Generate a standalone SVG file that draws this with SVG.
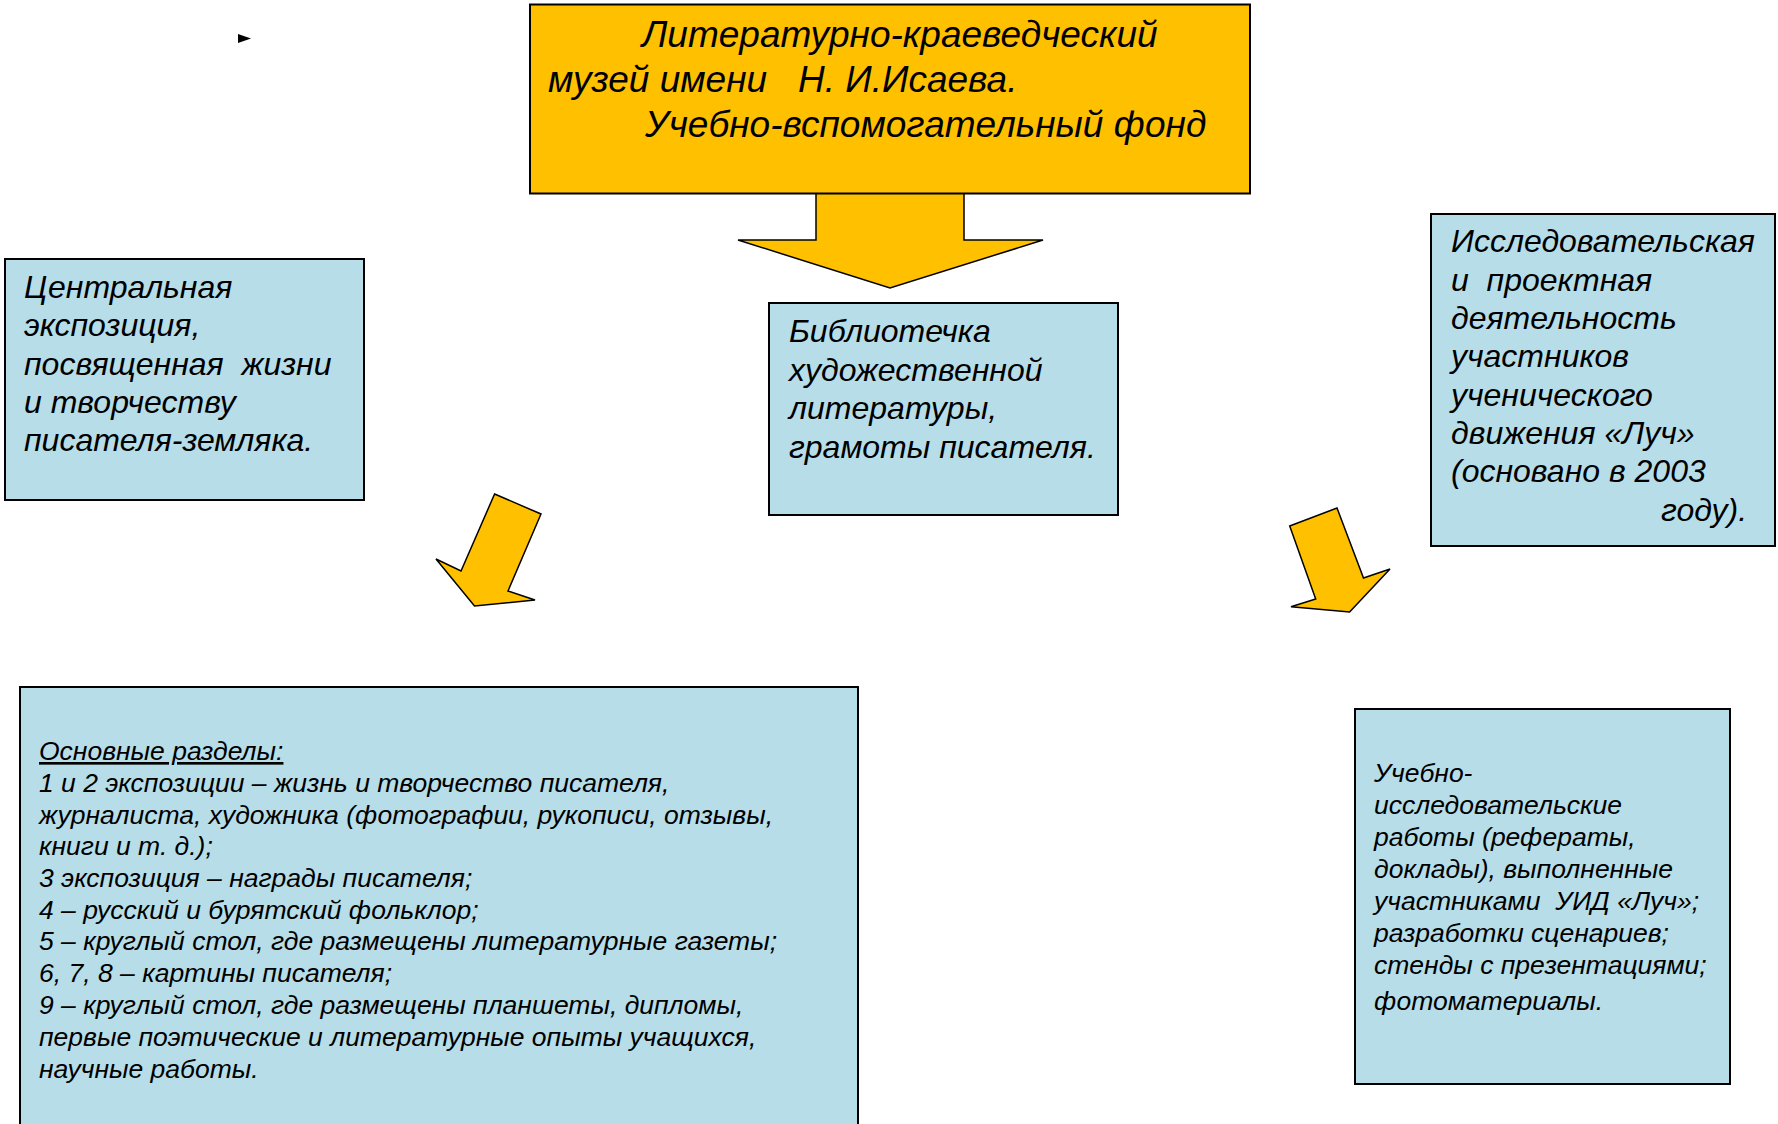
<svg xmlns="http://www.w3.org/2000/svg" width="1778" height="1124" viewBox="0 0 1778 1124">
<style>
  .box { fill: #B7DDE8; stroke: #000; stroke-width: 2; }
  .title { fill: #FFC000; stroke: #000; stroke-width: 2; }
  .arrow { fill: #FFC000; stroke: #000; stroke-width: 1.5; stroke-linejoin: miter; }
  text { font-family: "Liberation Sans", Arial, sans-serif; font-style: italic; fill: #000; white-space: pre; }
  .t35 { font-size: 37px; }
  .t30 { font-size: 32px; }
  .t24 { font-size: 26.5px; }
</style>
<rect width="1778" height="1124" fill="#fff"/>
<polygon points="238,34 251,38.5 238,43" fill="#000"/>
<g id="connectors">
  <polygon class="arrow" points="816,190 964,190 964,240 1043,240 890,288 738,240 816,240"/>
  <polygon class="arrow" points="494.6,494 541,514 508,591 535,600 474.5,606 436,559 461,571"/>
  <polygon class="arrow" points="1289.7,526 1337,508 1363.5,578 1390,569 1349.6,612 1291,606.7 1315.7,599"/>
</g>
<g id="title">
  <rect class="title" x="530" y="4.5" width="720" height="189"/>
  <text class="t35" x="642" y="47">Литературно-краеведческий</text>
  <text class="t35" x="548" y="92">музей имени   Н. И.Исаева.</text>
  <text class="t35" x="645" y="137">Учебно-вспомогательный фонд</text>
</g>
<g id="central">
  <rect class="box" x="5" y="259" width="359" height="241"/>
  <text class="t30" x="24" y="298">Центральная</text>
  <text class="t30" x="24" y="336">экспозиция,</text>
  <text class="t30" x="24" y="375">посвященная  жизни</text>
  <text class="t30" x="24" y="413">и творчеству</text>
  <text class="t30" x="24" y="451">писателя-земляка.</text>
</g>
<g id="library">
  <rect class="box" x="769" y="303" width="349" height="212"/>
  <text class="t30" x="789" y="342">Библиотечка</text>
  <text class="t30" x="789" y="381">художественной</text>
  <text class="t30" x="789" y="419">литературы,</text>
  <text class="t30" x="789" y="458">грамоты писателя.</text>
</g>
<g id="research">
  <rect class="box" x="1431" y="214" width="344" height="332"/>
  <text class="t30" x="1451" y="252">Исследовательская</text>
  <text class="t30" x="1451" y="291">и  проектная</text>
  <text class="t30" x="1451" y="329">деятельность</text>
  <text class="t30" x="1451" y="367">участников</text>
  <text class="t30" x="1451" y="406">ученического</text>
  <text class="t30" x="1451" y="444">движения «Луч»</text>
  <text class="t30" x="1451" y="482">(основано в 2003</text>
  <text class="t30" x="1661" y="521">году).</text>
</g>
<g id="sections">
  <rect class="box" x="20" y="687" width="838" height="500"/>
  <text class="t24" x="39" y="760" text-decoration="underline">Основные разделы:</text>
  <text class="t24" x="39" y="792">1 и 2 экспозиции – жизнь и творчество писателя,</text>
  <text class="t24" x="39" y="824">журналиста, художника (фотографии, рукописи, отзывы,</text>
  <text class="t24" x="39" y="855">книги и т. д.);</text>
  <text class="t24" x="39" y="887">3 экспозиция – награды писателя;</text>
  <text class="t24" x="39" y="919">4 – русский и бурятский фольклор;</text>
  <text class="t24" x="39" y="950">5 – круглый стол, где размещены литературные газеты;</text>
  <text class="t24" x="39" y="982">6, 7, 8 – картины писателя;</text>
  <text class="t24" x="39" y="1014">9 – круглый стол, где размещены планшеты, дипломы,</text>
  <text class="t24" x="39" y="1046">первые поэтические и литературные опыты учащихся,</text>
  <text class="t24" x="39" y="1078">научные работы.</text>
</g>
<g id="works">
  <rect class="box" x="1355" y="709" width="375" height="375"/>
  <text class="t24" x="1374" y="782">Учебно-</text>
  <text class="t24" x="1374" y="814">исследовательские</text>
  <text class="t24" x="1374" y="846">работы (рефераты,</text>
  <text class="t24" x="1374" y="878">доклады), выполненные</text>
  <text class="t24" x="1374" y="910">участниками  УИД «Луч»;</text>
  <text class="t24" x="1374" y="942">разработки сценариев;</text>
  <text class="t24" x="1374" y="974">стенды с презентациями;</text>
  <text class="t24" x="1374" y="1010">фотоматериалы.</text>
</g>
</svg>
